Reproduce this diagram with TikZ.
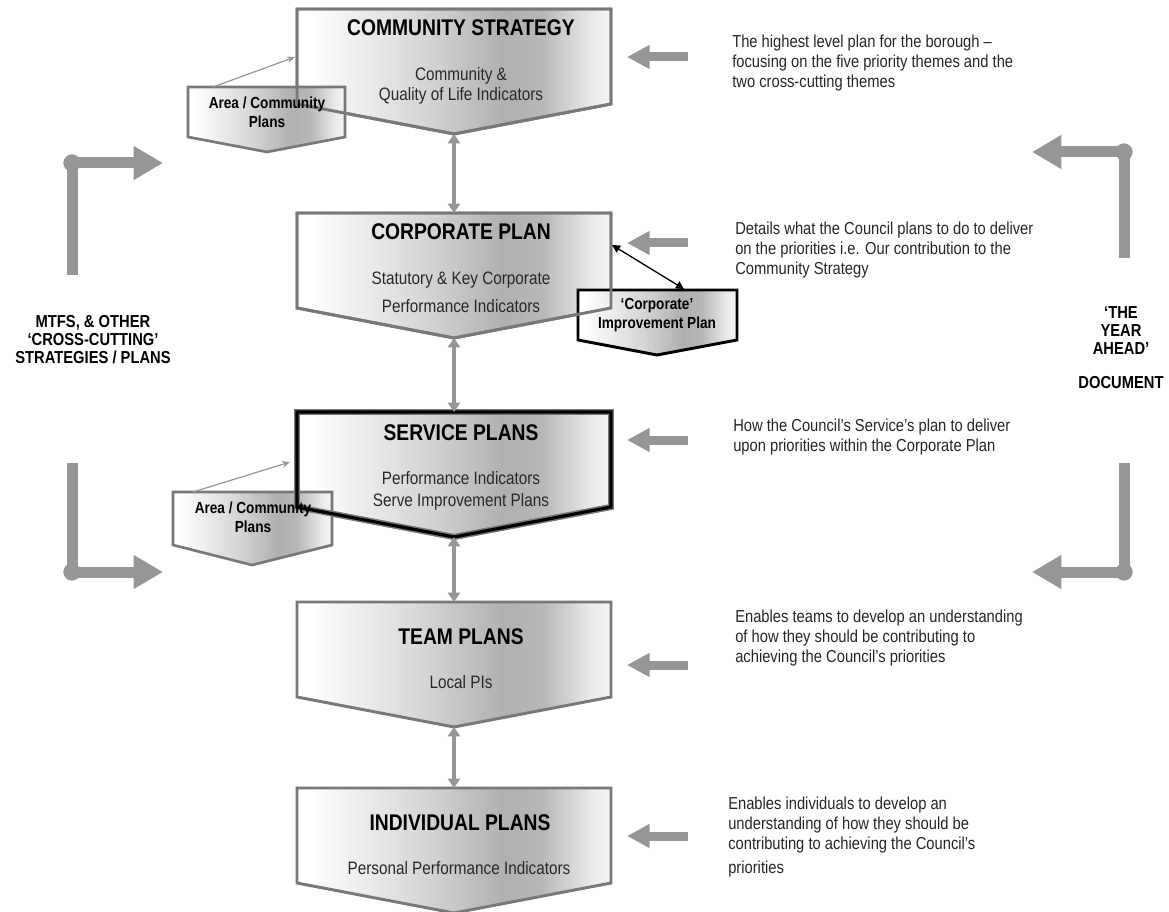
\documentclass[tikz,border=0pt]{standalone}
\usepackage{fontspec}
\setmainfont{Liberation Sans}[FakeStretch=0.85]
\usepackage{tikz}
\usetikzlibrary{arrows.meta}
\tikzset{>=Stealth}
\definecolor{boxgray}{RGB}{120,120,120}
\definecolor{arrowgray}{RGB}{150,150,150}
\definecolor{textgray}{RGB}{40,40,40}
\pgfdeclarehorizontalshading{planshade}{100bp}{color(0bp)=(white); color(27bp)=(white); color(45bp)=(black!16); color(58bp)=(black!31); color(64bp)=(black!28); color(72bp)=(black!8); color(75bp)=(black!4); color(100bp)=(black!4)}
\newcommand\planpath[1]{(297,#1) -- (611,#1) -- (611,#1+95) -- (454,#1+125) -- (297,#1+95) -- cycle}
\tikzset{
    planbox/.style={draw=boxgray, line width=2.2pt, shading=planshade},
    planedge/.style={draw=boxgray, line width=2.2pt},
    keybox/.style={draw=boxgray, line width=1pt, double=black, double distance=2.4pt, shading=planshade},
    keyedge/.style={draw=boxgray, line width=1pt, double=black, double distance=2.4pt},
    sidebox/.style={draw=boxgray, line width=2pt, shading=planshade},
    impbox/.style={draw=black, line width=2.2pt, shading=planshade},
    headline/.style={font=\bfseries\fontsize{17}{20}\selectfont, inner sep=0pt},
    subtext/.style={font=\fontsize{13.5}{15}\selectfont, text=textgray, align=center, inner sep=0pt},
    smalltext/.style={font=\bfseries\fontsize{12}{14.5}\selectfont, align=center, inner sep=0pt},
    desc/.style={font=\fontsize{13}{15}\selectfont, text=black!85, align=left, anchor=north west, inner sep=0pt},
    sidelabel/.style={font=\bfseries\fontsize{13}{13.5}\selectfont, align=center, inner sep=0pt},
    link/.style={<->, draw=arrowgray, line width=2.8pt, >={Triangle[length=7pt,width=9pt]}},
    feed/.style={-{Triangle[length=17pt,width=17pt]}, draw=arrowgray, line width=6.75pt},
    bracket/.style={-{Triangle[length=22pt,width=24pt]}, draw=arrowgray, line width=8.25pt},
    hint/.style={-{Stealth[length=6pt,width=5pt]}, draw=arrowgray, line width=0.9pt},
    tie/.style={{Triangle[length=6pt,width=6pt]}-{Triangle[length=6pt,width=6pt]}, draw=black, line width=1pt}
}

\begin{document}
\begin{tikzpicture}[x=0.75pt,y=-0.75pt]
    \useasboundingbox (0,0) rectangle (1169,912);
    \foreach \nm/\ty/\st in {cs/9/planbox,cp/213/planbox,sp/412/keybox,tp/602/planbox,ip/788/planbox}{
        \path[\st] \planpath{\ty};
        \coordinate (\nm-n) at (454,\ty);
        \coordinate (\nm-s) at (454,\ty+125);
    }
    \path[sidebox] (188,87) -- (345,87) -- (345,137) -- (267,152) -- (188,137) -- cycle;
    \path[sidebox] (173,492) -- (332,492) -- (332,545) -- (252,565) -- (173,545) -- cycle;
    \path[impbox] (578,290) -- (737,290) -- (737,340) -- (657,355) -- (578,340) -- cycle;
    \draw[planedge] \planpath{9};
    \draw[planedge] \planpath{213};
    \draw[keyedge] \planpath{412};

    \node[headline] (cshead) at (461,28) {COMMUNITY STRATEGY};
    \node[subtext] (cssub) at (461,86) {Community \&\\Quality of Life Indicators};
    \node[headline] (cphead) at (461,232) {CORPORATE PLAN};
    \node[subtext] (cpsub) at (461,292) {Statutory \& Key Corporate\\[6pt]Performance Indicators};
    \node[headline] (sphead) at (461,433) {SERVICE PLANS};
    \node[subtext] (spsub) at (461,491) {Performance Indicators\\[2pt]Serve Improvement Plans};
    \node[headline] (tphead) at (461,637) {TEAM PLANS};
    \node[subtext] (tpsub) at (461,682) {Local PIs};
    \node[headline] (iphead) at (460,823) {INDIVIDUAL PLANS};
    \node[subtext] (ipsub) at (459,868) {Personal Performance Indicators};

    \node[smalltext] (area1) at (267,112) {Area / Community\\Plans};
    \node[smalltext] (area2) at (253,517) {Area / Community\\Plans};
    \node[smalltext] (imp) at (657,315) {`Corporate'\\Improvement Plan};

    \node[sidelabel] (mtfs) at (93,340) {MTFS, \& OTHER\\`CROSS-CUTTING'\\STRATEGIES / PLANS};
    \node[sidelabel] (year) at (1121,348) {`THE\\YEAR\\AHEAD'\\[12pt]DOCUMENT};

    \node[desc] (csdesc) at (732,35) {The highest level plan for the borough --\\focusing on the five priority themes and the\\two cross-cutting themes};
    \node[desc] (cpdesc) at (735,222) {Details what the Council plans to do to deliver\\on the priorities i.e. Our contribution to the\\Community Strategy};
    \node[desc] (spdesc) at (733,419) {How the Council's Service's plan to deliver\\upon priorities within the Corporate Plan};
    \node[desc] (tpdesc) at (735,610) {Enables teams to develop an understanding\\of how they should be contributing to\\achieving the Council's priorities};
    \node[desc] (ipdesc) at (728,797) {Enables individuals to develop an\\understanding of how they should be\\contributing to achieving the Council's\\[3pt]priorities};

    \draw[link] (cs-s) -- (cp-n);
    \draw[link] (cp-s) -- (sp-n);
    \draw[link] (sp-s) -- (tp-n);
    \draw[link] (tp-s) -- (ip-n);

    \foreach \nm/\y in {cs/57,cp/243,sp/440,tp/665,ip/836}{
        \coordinate (\nm-in) at (688,\y);
        \coordinate (\nm-e) at (627,\y);
        \draw[feed] (\nm-in) -- (\nm-e);
    }

    \coordinate (lt-a) at (72,275);
    \coordinate (lt-c) at (72,163);
    \coordinate (lt-b) at (163,163);
    \coordinate (lb-a) at (72,463);
    \coordinate (lb-c) at (72,572);
    \coordinate (lb-b) at (163,572);
    \coordinate (rt-a) at (1124,258);
    \coordinate (rt-c) at (1124,152);
    \coordinate (rt-b) at (1032,152);
    \coordinate (rb-a) at (1124,463);
    \coordinate (rb-c) at (1124,572);
    \coordinate (rb-b) at (1032,572);
    \foreach \br in {lt,lb,rt,rb}{
        \draw[bracket] (\br-a) -- (\br-c) -- (\br-b);
        \fill[arrowgray] (\br-c) circle[radius=6.5pt];
    }

    \coordinate (h1-a) at (213,87);
    \coordinate (h1-b) at (295,57);
    \coordinate (h2-a) at (193,492);
    \coordinate (h2-b) at (290,462);
    \draw[hint] (h1-a) -- (h1-b);
    \draw[hint] (h2-a) -- (h2-b);

    \coordinate (t-a) at (612,245);
    \coordinate (t-b) at (684,289);
    \draw[tie] (t-a) -- (t-b);
\end{tikzpicture}
\end{document}
